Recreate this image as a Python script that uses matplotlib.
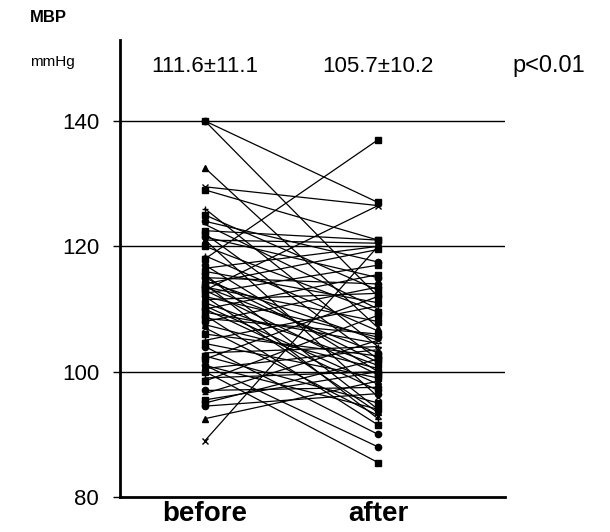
import matplotlib
matplotlib.use("Agg")
import matplotlib.pyplot as plt
import numpy as np

plt.rcParams['font.family'] = ['Liberation Sans', 'DejaVu Sans']

# paired MBP values (mmHg)
before = [140, 140, 132.5, 129.5, 129, 126, 125, 124, 123.5, 122.5, 122, 121.5,
          121, 121, 120, 118.5, 118, 117, 116.5, 116, 115.5, 115, 115, 114.5,
          114, 114, 113.5, 113.5, 113, 113, 112.5, 112, 112, 111.5, 111, 110.5,
          110, 110, 109.5, 109, 108.5, 108, 107.5, 107, 106, 105, 104.5, 104,
          103, 102.5, 102, 101, 101, 100.5, 100, 99, 98.5, 97, 96.5, 95.5, 95,
          94.5, 92.5, 89]
after = [127, 112, 107, 126.5, 121, 104, 113, 117.5, 110, 121, 102, 115,
         120.5, 96, 109.5, 106.5, 137, 100, 120, 111, 94, 114, 101.5, 105,
         119.5, 92.5, 108, 103, 126.5, 99.5, 117, 105.5, 93.5, 112.5, 101, 98,
         115.5, 97, 104.5, 91.5, 106, 113.5, 100.5, 93, 102.5, 110.5, 99, 90,
         104, 95, 112, 88, 94, 103.5, 85.5, 100, 109, 97.5, 105, 100, 102,
         96.5, 98.5, 120]
groups = ["before", "after"]
yticks = [80, 100, 120, 140]
stats = ["111.6\u00b111.1", "105.7\u00b110.2"]
ptext = "p<0.01"

markers = ['s', 'o', '^', 'x', 's', '+', 's', 'o', '_', 's']

fig = plt.figure(figsize=(6.1, 5.32), dpi=100)
W, H = 610, 532
x_axis, x_end = 120, 505
y_bot, y_top = 497, 40
ax = fig.add_axes([x_axis / W, (H - y_bot) / H, (x_end - x_axis) / W, (y_bot - y_top) / H])

xb, xa = 205, 378
ppx = xa - xb
ax.set_xlim((x_axis - xb) / ppx, (x_end - xb) / ppx)
ppy = (497 - 121) / 60.0
ax.set_ylim(80, 80 + (y_bot - y_top) / ppy)

for g in [100, 120, 140]:
    ax.axhline(g, color='black', lw=1.0, zorder=1)

for i, (b, a) in enumerate(zip(before, after)):
    m = markers[i % len(markers)]
    ax.plot([0, 1], [b, a], color='black', lw=0.9, marker=m, ms=4.5,
            mew=1.0, mfc='black', mec='black', zorder=3)

ax.spines['top'].set_visible(False)
ax.spines['right'].set_visible(False)
ax.spines['left'].set_linewidth(2)
ax.spines['bottom'].set_linewidth(2)
ax.set_yticks(yticks)
ax.set_yticklabels([str(v) for v in yticks], fontsize=16)
ax.tick_params(axis='y', length=5, width=1, pad=10)
ax.set_xticks([0, 1])
ax.set_xticklabels(groups, fontsize=20, fontweight='bold')
ax.tick_params(axis='x', length=0, pad=3)

ystat = 80 + (y_bot - 66) / ppy
ax.text(0, ystat, stats[0], ha='center', va='center', fontsize=16, clip_on=False)
ax.text(1, ystat, stats[1], ha='center', va='center', fontsize=16, clip_on=False)
fig.text(512 / W, 1 - 66 / H, ptext, ha='left', va='center', fontsize=17)
fig.text(30 / W, 1 - 18 / H, "MBP", ha='left', va='center', fontsize=12, fontweight='bold')
fig.text(30 / W, 1 - 62 / H, "mmHg", ha='left', va='center', fontsize=11)

fig.savefig("out.png", dpi=100)
